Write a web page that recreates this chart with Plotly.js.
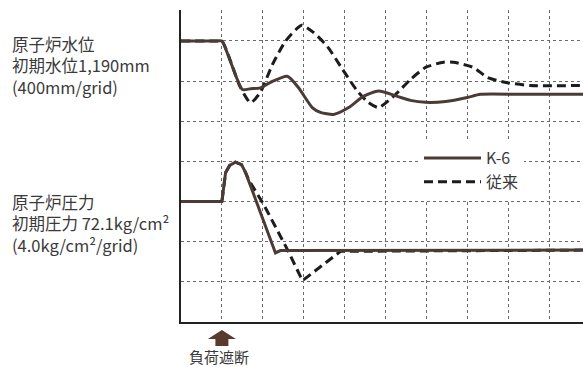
<!DOCTYPE html>
<html>
<head>
<meta charset="utf-8">
<script src="https://cdn.plot.ly/plotly-3.0.1.min.js"></script>
<style>html,body{margin:0;padding:0;background:#fff;}#chart{width:583px;height:367px;}</style>
</head>
<body>
<div id="chart"></div>
<script>
// Time axis and signal values in grid units (1 unit = 1 grid division)
const levelK6X = [0, 0.9, 1.0, 1.50, 1.70, 1.94, 2.19, 2.60, 2.87, 3.21, 3.41, 3.73, 4.10, 4.46, 4.83, 5.29, 5.61, 5.98, 6.47, 7.00, 7.32, 8.30, 9.84];
const levelK6Y = [7.0, 7.0, 7.0, 5.79, 5.81, 5.83, 5.97, 6.12, 5.84, 5.34, 5.22, 5.17, 5.34, 5.62, 5.75, 5.62, 5.52, 5.47, 5.49, 5.59, 5.67, 5.67, 5.67];

const levelOldX = [0, 0.9, 1.0, 1.45, 1.70, 1.94, 2.24, 2.56, 2.95, 3.24, 3.58, 3.95, 4.32, 4.58, 4.83, 5.25, 5.61, 5.98, 6.42, 6.66, 7.15, 7.49, 7.98, 8.54, 9.84];
const levelOldY = [7.0, 7.0, 7.0, 5.85, 5.46, 5.72, 6.42, 7.0, 7.39, 7.21, 6.86, 6.29, 5.74, 5.47, 5.34, 5.67, 6.04, 6.34, 6.47, 6.47, 6.34, 6.09, 5.96, 5.89, 5.89];

const pressK6X = [0, 1.0, 1.09, 1.19, 1.33, 1.48, 1.58, 2.31, 2.43, 9.84];
const pressK6Y = [3.0, 3.0, 3.72, 3.90, 3.98, 3.92, 3.72, 1.72, 1.78, 1.79];

const pressOldX = [0, 1.0, 1.09, 1.19, 1.33, 1.48, 1.58, 1.65, 2.02, 2.60, 2.97, 3.90, 9.84];
const pressOldY = [3.0, 3.0, 3.72, 3.90, 3.98, 3.92, 3.72, 3.55, 2.93, 1.81, 1.03, 1.76, 1.79];

const seriesNames = ["K-6", "従来"];
const levelLabel = ["原子炉水位", "初期水位1,190mm", "(400mm/grid)"];
const pressLabel = ["原子炉圧力", "初期圧力 72.1kg/cm²", "(4.0kg/cm²/grid)"];
const eventLabel = "負荷遮断";
const eventX = 1.0;

const xMax = 9.83, yMax = 7.77;
const FONT = '"Noto Sans CJK JP", "Noto Sans", sans-serif';
const TXT = '#3a3a3a';
const solidStyle = {color: '#4a3b37', width: 3, shape: 'spline', smoothing: 0.6};
const dashStyle = {color: '#1c1c1c', width: 3, dash: '9px,5px', shape: 'spline', smoothing: 0.6};

const traces = [
  {x: levelOldX, y: levelOldY, mode: 'lines', name: seriesNames[1], legendgroup: 'old', legendrank: 2, line: dashStyle},
  {x: pressOldX, y: pressOldY, mode: 'lines', name: seriesNames[1], legendgroup: 'old', showlegend: false, line: Object.assign({}, dashStyle, {shape: 'linear'})},
  {x: levelK6X, y: levelK6Y, mode: 'lines', name: seriesNames[0], legendgroup: 'k6', legendrank: 1, line: solidStyle},
  {x: pressK6X, y: pressK6Y, mode: 'lines', name: seriesNames[0], legendgroup: 'k6', showlegend: false, line: Object.assign({}, solidStyle, {shape: 'linear'})}
];

const plotTop = 10, plotH = 312, plotL = 181, plotW = 402;
const py = p => (plotTop + plotH - p) / plotH;   // pixel y -> paper
const px = p => (p - plotL) / plotW;             // pixel x -> paper

const annotations = [];
[[levelLabel, 65.5], [pressLabel, 223.5]].forEach(([lines, yc]) => {
  annotations.push({
    text: lines.join('<br>'), xref: 'paper', yref: 'paper', x: px(10), y: py(yc),
    xanchor: 'left', yanchor: 'middle', align: 'left', showarrow: false,
    font: {family: FONT, size: 16.5, color: TXT}
  });
});
const evPaper = eventX / xMax;
annotations.push({text: eventLabel, xref: 'paper', yref: 'paper', x: evPaper - 0.008, y: py(356),
  xanchor: 'center', yanchor: 'middle', showarrow: false, font: {family: FONT, size: 15, color: TXT}});

const hw = 14 / plotW, sw = 6.5 / plotW;
const arrowPath = `M${evPaper},${py(330)} L${evPaper + hw},${py(339)} L${evPaper + sw},${py(339)} L${evPaper + sw},${py(346)} L${evPaper - sw},${py(346)} L${evPaper - sw},${py(339)} L${evPaper - hw},${py(339)} Z`;

const axisCommon = {
  showgrid: true, gridcolor: '#6a6a6a', gridwidth: 1, griddash: 'dot',
  showline: true, linecolor: '#222', linewidth: 2, mirror: false,
  showticklabels: false, ticks: '', zeroline: false, tick0: 0, dtick: 1, fixedrange: true
};

const layout = {
  width: 583, height: 367,
  margin: {l: plotL, r: 0, t: plotTop, b: 367 - plotTop - plotH, pad: 0},
  paper_bgcolor: '#fff', plot_bgcolor: '#fff',
  showlegend: true,
  legend: {x: px(419), y: py(141), xanchor: 'left', yanchor: 'top', bgcolor: '#fff', borderwidth: 0,
    font: {family: FONT, size: 16, color: TXT}, itemwidth: 57, tracegroupgap: 0, traceorder: 'normal'},
  xaxis: Object.assign({range: [0, xMax]}, axisCommon),
  yaxis: Object.assign({range: [0, yMax]}, axisCommon),
  annotations: annotations,
  shapes: [{type: 'path', xref: 'paper', yref: 'paper', path: arrowPath, fillcolor: '#5a3a2e', line: {width: 0}}]
};

Plotly.newPlot('chart', traces, layout, {staticPlot: true, displayModeBar: false});
</script>
</body>
</html>
